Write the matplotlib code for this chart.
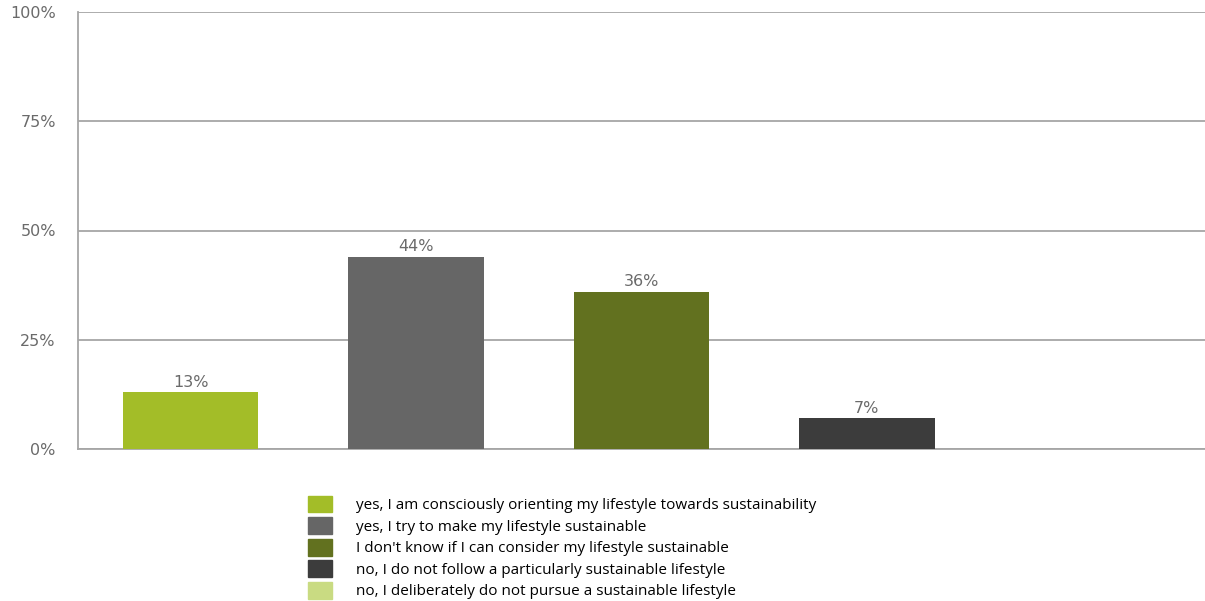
import matplotlib.pyplot as plt
import matplotlib.patches as mpatches
import numpy as np

categories = [
    "yes, I am consciously orienting my lifestyle towards sustainability",
    "yes, I try to make my lifestyle sustainable",
    "I don't know if I can consider my lifestyle sustainable",
    "no, I do not follow a particularly sustainable lifestyle",
    "no, I deliberately do not pursue a sustainable lifestyle",
]
values = [13, 44, 36, 7, 0]
colors = ["#a3bd28", "#666666", "#62711f", "#3c3c3c", "#c9db82"]
yticks = [0, 25, 50, 75, 100]

fig = plt.figure(figsize=(12.05, 6.01), dpi=100)
ax = fig.add_axes([78 / 1205, 1 - 449 / 601, 1 - 78 / 1205, 437 / 601])

x = np.arange(len(values))
ax.bar(x, values, width=0.6, color=colors, zorder=3)
for xi, v in zip(x, values):
    if v > 0:
        ax.text(xi, v + 0.6, f"{v}%", ha="center", va="bottom",
                fontsize=11.5, color="#6a6a6a", family="DejaVu Sans")

ax.set_xlim(-0.5, 4.5)
ax.set_ylim(0, 100)
ax.set_yticks(yticks)
ax.set_yticklabels([f"{t}%" for t in yticks], fontsize=11.5, color="#6a6a6a")
ax.tick_params(axis="y", length=0, pad=16)
ax.set_xticks([])
ax.grid(axis="y", color="#a6a6a6", linewidth=1.3, zorder=0)
for s in ["top", "right"]:
    ax.spines[s].set_visible(False)
for s in ["left", "bottom"]:
    ax.spines[s].set_color("#a6a6a6")
    ax.spines[s].set_linewidth(1.3)

handles = [mpatches.Patch(color=c) for c in colors]
fig.legend(handles, categories, loc="upper left",
           bbox_to_anchor=(294 / 1205, 1 - 482 / 601),
           frameon=False, handlelength=1.6, handleheight=1.3,
           handletextpad=1.55, labelspacing=0.27,
           prop={"family": "Open Sans", "size": 11})

fig.savefig("out.png", dpi=100)
